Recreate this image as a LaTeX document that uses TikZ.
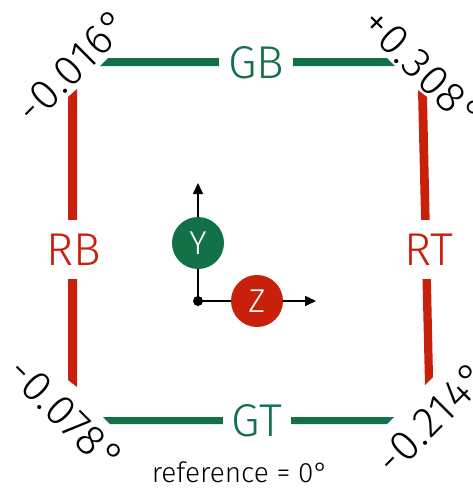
\documentclass[tikz,border=0pt]{standalone}
\usepackage{fontspec}
\setmainfont{Fira Sans Light}
\usetikzlibrary{arrows.meta}

\definecolor{gbar}{RGB}{19,113,72}
\definecolor{rbar}{RGB}{200,32,10}

\tikzset{
  sidelabel/.style={font=\fontsize{46}{46}\selectfont, fill=white,
    inner xsep=9pt, inner ysep=13pt, text height=33pt, text depth=0pt},
  tilt/.style={font=\fontsize{43}{43}\selectfont\addfontfeatures{LetterSpace=3},
    inner sep=0pt},
  axisdot/.style={circle, fill=black, inner sep=0pt, minimum size=10pt},
  ball/.style={circle, inner sep=0pt, minimum size=52pt, text=white,
    font=\fontsize{33}{33}\selectfont},
  axisline/.style={line width=1.6pt, -{Triangle[length=11pt,width=10pt]}}
}

\begin{document}
\begin{tikzpicture}[x=1pt, y=-1pt]
    \useasboundingbox (0,0) rectangle (473,488);
    % Frame bars, ends cut along the corner diagonals
    \fill[gbar] (100,66) -- (108,58) -- (387,58) -- (395,66) -- cycle; % top
    \fill[gbar] (103,417) -- (394,417) -- (387,424) -- (110,424) -- cycle; % bottom
    \fill[rbar] (68,97) -- (77,89) -- (77,387) -- (68,380) -- cycle; % left
    \fill[rbar] (418,90) -- (427,97) -- (433,377) -- (425,385) -- cycle; % right
    % Side names
    \node[sidelabel, text=gbar] (gb) at (256,62) {GB};
    \node[sidelabel, text=gbar] (gt) at (257,420) {GT};
    \node[sidelabel, text=rbar] (rb) at (74,249) {RB};
    \node[sidelabel, text=rbar] (rt) at (429,249) {RT};
    % Corner angles
    \node[tilt, rotate=45] (tl) at (73,66) {-0.016°};
    \node[tilt, rotate=-45] (tr) at (423,69) {+0.308°};
    \node[tilt, rotate=-45] (bl) at (66,415) {-0.078°};
    \node[tilt, rotate=45] (br) at (432,418) {-0.214°};
    % Axes
    \node[axisdot] (o) at (198,301) {};
    \coordinate (ytip) at (198,183);
    \coordinate (ztip) at (316,301);
    \draw[axisline] (o.center) -- (ytip);
    \draw[axisline] (o.center) -- (ztip);
    \node[ball, fill=gbar] (y) at (198,243) {Y};
    \node[ball, fill=rbar] (z) at (257,301) {Z};
    % Reference note
    \node[font=\fontsize{28}{28}\selectfont, anchor=base] (ref) at (240,482)
    {reference = 0°};
\end{tikzpicture}
\end{document}
